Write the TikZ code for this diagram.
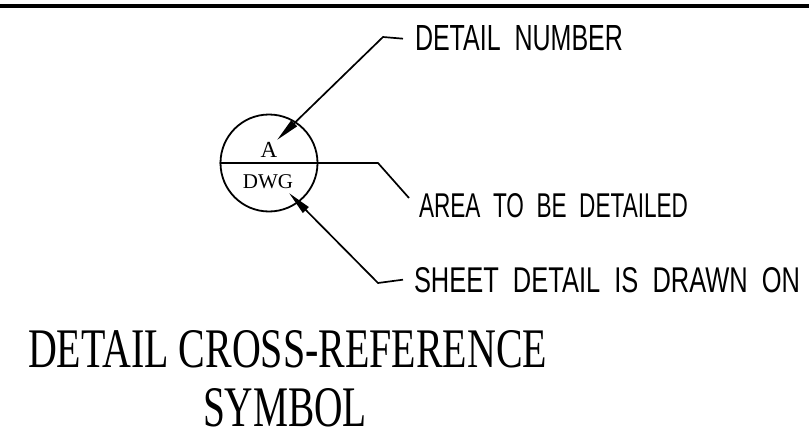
\documentclass[tikz,border=0pt]{standalone}
\usepackage{fontspec}
\usepackage{graphicx}
\setmainfont{Liberation Serif}
\newfontfamily\cadfont{Liberation Sans}
\usetikzlibrary{arrows.meta}
\begin{document}
\begin{tikzpicture}[x=1pt,y=-1pt,
  lead/.style={line width=1.7pt, line join=miter},
  tipend/.style={-{Triangle[length=24pt,width=8pt]}},
  lbl/.style={anchor=base west, inner sep=0pt, outer sep=0pt}]
\useasboundingbox (0,0) rectangle (809,436);
\draw[line width=3.2pt] (0,6) -- (809,6);
% symbol
\node[circle, draw, line width=1.8pt, minimum size=97pt, inner sep=0pt] (sym) at (269,163) {};
\node[anchor=base, inner sep=0pt] (num) at (269,157) {\fontsize{23}{23}\selectfont A};
\node[anchor=base, inner sep=0pt] (dwg) at (268,188) {\fontsize{21}{21}\selectfont DWG};
% labels
\node[lbl] (l1) at (415,51) {\resizebox{208pt}{25pt}{\cadfont DETAIL\ \ NUMBER}};
\node[lbl] (l2) at (419,217) {\resizebox{269pt}{24pt}{\cadfont AREA\ \ TO\ \ BE\ \ DETAILED}};
\node[lbl] (l3) at (414,292) {\resizebox{386pt}{25pt}{\cadfont SHEET\ \ DETAIL\ \ IS\ \ DRAWN\ \ ON}};
% title
\node[lbl] (t1) at (28,367) {\resizebox{519pt}{37pt}{DETAIL CROSS-REFERENCE}};
\node[lbl] (t2) at (203,426) {\resizebox{164pt}{38pt}{SYMBOL}};
% leaders
\coordinate (c1) at (383,37);
\coordinate (p1) at (277,140);
\coordinate (c2) at (378,163);
\coordinate (e2) at (409,198);
\coordinate (c3) at (378,283);
\coordinate (p3) at (289,193);
\draw[lead,tipend] ([xshift=-12pt]l1.west) -- (c1) -- (p1);
\draw[lead] (sym.west) -- (c2) -- (e2);
\draw[lead,tipend] ([xshift=-11pt]l3.west) -- (c3) -- (p3);
\end{tikzpicture}
\end{document}
